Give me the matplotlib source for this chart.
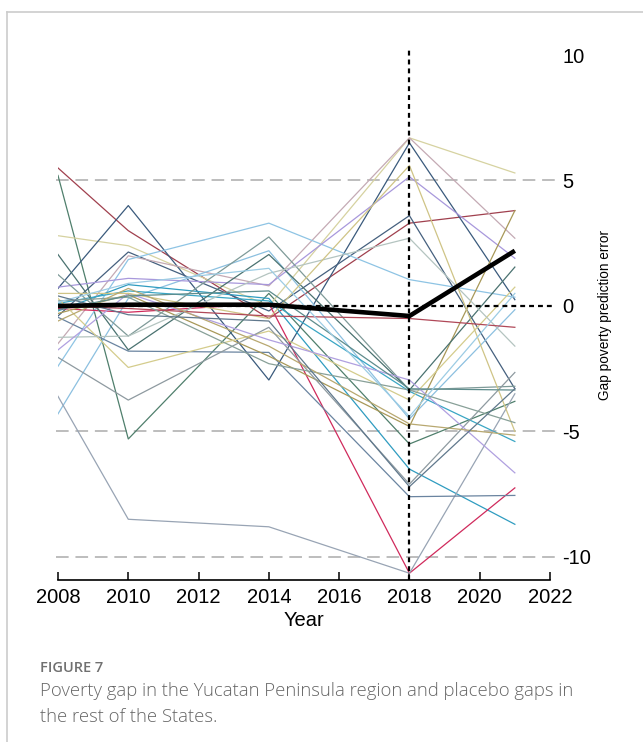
import numpy as np
import matplotlib
matplotlib.use("Agg")
import matplotlib.pyplot as plt
from matplotlib.lines import Line2D

plt.rcParams['font.family'] = ['Liberation Sans', 'DejaVu Sans']
plt.rcParams['axes.unicode_minus'] = False

# years with observations
years = [2008, 2010, 2014, 2018, 2021]

# Yucatan Peninsula gap (treated region)
yucatan = [0.0, 0.05, 0.05, -0.4, 2.2]

# placebo gaps for the remaining states
placebo = [
    [5.5, 3.0, -0.5, 3.3, 3.8],
    [5.2, -5.3, 0.5, -5.5, -3.8],
    [2.8, 2.4, 0.0, 6.7, 5.3],
    [0.7, 4.0, -2.95, 6.5, 0.25],
    [-0.4, 2.15, -0.2, 3.6, -3.3],
    [-1.5, 2.0, 0.8, 6.7, 2.7],
    [-2.4, 1.85, 3.3, 1.05, 0.35],
    [-4.3, 0.3, 2.2, -4.5, -0.15],
    [0.75, 1.1, 0.85, 5.15, 1.9],
    [-0.2, 0.85, 0.3, -6.5, -8.7],
    [0.1, 0.6, 0.2, -3.4, -5.4],
    [-0.1, -0.25, 0.1, -10.65, -7.25],
    [-3.6, -8.5, -8.8, -10.65, -3.5],
    [-0.45, -1.8, -1.85, -7.6, -7.55],
    [-0.3, 0.45, -2.0, -4.8, 3.8],
    [0.3, -2.45, -1.0, -3.75, 0.75],
    [1.25, -1.2, 2.75, -3.35, -3.2],
    [2.05, -1.75, 2.05, -3.35, 1.55],
    [-1.25, -1.2, 1.3, 2.7, -1.6],
    [-2.05, -3.75, -0.85, -7.1, -2.65],
    [-1.75, 0.5, -1.35, -2.95, -6.65],
    [0.5, 0.5, -0.5, 5.6, -5.0],
    [0.0, -0.1, -0.4, -0.5, -0.85],
    [0.2, 0.35, -2.3, -3.35, -4.65],
    [-0.6, 0.7, -1.6, -4.7, -5.15],
    [-0.15, 0.4, 0.6, -3.3, -3.35],
    [0.15, 0.9, 1.5, -4.4, 0.5],
    [0.4, -0.35, -0.6, -7.2, -3.3],
]
placebo_colors = [
    '#a0404e', '#4f7f6c', '#d6d2a0', '#3a5a7c', '#45607e', '#c4aab4',
    '#8ec4e4', '#8cc0e0', '#a898dc', '#2f9cc0', '#3aa6c4', '#d02a5c',
    '#98a4b4', '#6a84a0', '#a89858', '#d4cc8c', '#7e9a98', '#4a7270',
    '#b4c4c0', '#8e9aa0', '#b0a0e0', '#cfc486', '#b04858', '#88a098',
    '#b8a870', '#5e8c8c', '#9ccce4', '#60788c',
]

yticks = [10, 5, 0, -5, -10]
xticks = [2008, 2010, 2012, 2014, 2016, 2018, 2020, 2022]

fig = plt.figure(figsize=(6.43, 7.42), dpi=100)
ax = fig.add_axes([58/643, 1 - 580/742, 492/643, 530/742])

for vals, c in zip(placebo, placebo_colors):
    ax.plot(years, vals, color=c, lw=0.9, zorder=2)

ax.plot(years, yucatan, color='black', lw=3.3, zorder=5, solid_capstyle='butt')

# reference lines
for yv in [5, -5, -10]:
    ax.axhline(yv, xmin=-0.005, xmax=1.015, color='#bdbdbd', lw=1.4,
               dashes=(6.5, 3.5), clip_on=False, zorder=1)
ax.axhline(0, xmin=0, xmax=1.01, color='black', lw=1.6, dashes=(2.2, 1.8),
           clip_on=False, zorder=4)
ax.axvline(2018, color='black', lw=1.6, dashes=(2.2, 1.8), zorder=4)

ax.set_xlim(2008, 2022)
ax.set_ylim(-10.92, 10.2)

for s in ['top', 'right', 'left']:
    ax.spines[s].set_visible(False)
ax.spines['bottom'].set_linewidth(1.2)

ax.set_xticks(xticks)
ax.tick_params(axis='x', direction='in', length=6, width=1.1, labelsize=14.5, pad=6)
ax.yaxis.tick_right()
ax.yaxis.set_label_position('right')
ax.set_yticks(yticks)
ax.tick_params(axis='y', length=0, labelsize=14.5, pad=9)

ax.set_xlabel('Year', fontsize=14.5, labelpad=3)
ax.set_ylabel('Gap poverty prediction error', fontsize=9.8)
ax.yaxis.set_label_coords((598 - 58) / 492, 0.5)

# caption frame
fig.add_artist(Line2D([6.5/643, 6.5/643], [0, 1 - 12/742], color='#cccccc', lw=1.2))
fig.add_artist(Line2D([6.5/643, 1], [1 - 12/742, 1 - 12/742], color='#cccccc', lw=1.2))

fig.text(40/643, 1 - 668/742, 'FIGURE 7', fontsize=10.5, color='#707070',
         family=['Open Sans', 'DejaVu Sans'], va='center', weight='semibold')
fig.text(40/643, 1 - 691/742,
         'Poverty gap in the Yucatan Peninsula region and placebo gaps in',
         fontsize=13.3, color='#666666', family=['Open Sans', 'DejaVu Sans'],
         va='center', weight='light')
fig.text(40/643, 1 - 717/742, 'the rest of the States.',
         fontsize=13.3, color='#666666', family=['Open Sans', 'DejaVu Sans'],
         va='center', weight='light')

fig.savefig('out.png', dpi=100)
